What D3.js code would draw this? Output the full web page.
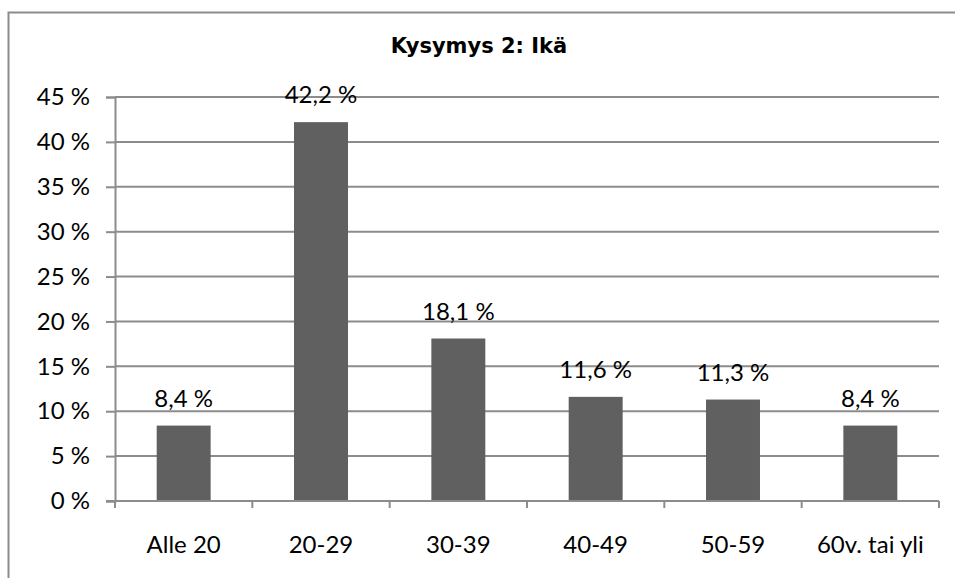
<!DOCTYPE html>
<html>
<head>
<meta charset="utf-8">
<script src="https://cdn.jsdelivr.net/npm/d3@7"></script>
<style>
  body { margin: 0; background: #fff; }
  svg { display: block; }
</style>
</head>
<body>
<div id="chart"></div>
<script>
// data
const categories = ['Alle 20', '20-29', '30-39', '40-49', '50-59', '60v. tai yli'];
const values = [8.4, 42.2, 18.1, 11.6, 11.3, 8.4];
const yTicks = [0, 5, 10, 15, 20, 25, 30, 35, 40, 45];
const title = 'Kysymys 2: Ikä';

const width = 955, height = 578;
const plot = { left: 115, right: 939, top: 97, bottom: 501 };

const svg = d3.select('#chart').append('svg')
    .attr('width', width)
    .attr('height', height);

// outer frame (runs off the right and bottom edges)
svg.append('rect')
    .attr('x', 8.5).attr('y', 12.5)
    .attr('width', 960).attr('height', 600)
    .attr('fill', 'none')
    .attr('stroke', '#8c8c8c')
    .attr('stroke-width', 2);

svg.append('text')
    .attr('x', 479).attr('y', 53)
    .attr('text-anchor', 'middle')
    .style('font-family', '"DejaVu Sans", sans-serif')
    .style('font-weight', 'bold')
    .style('font-size', '21px')
    .text(title);

const x = d3.scaleBand()
    .domain(categories)
    .range([plot.left, plot.right])
    .paddingInner(0.607)
    .paddingOuter(0.3035);

const xOuter = d3.scaleBand()
    .domain(categories)
    .range([plot.left, plot.right]);

const y = d3.scaleLinear()
    .domain([0, 45])
    .range([plot.bottom, plot.top]);

const font = 'Lato, "Open Sans", sans-serif';
const fs = '24px';

// gridlines + y axis
const yAxis = svg.append('g')
    .attr('transform', `translate(${plot.left},0)`)
    .call(d3.axisLeft(y).tickValues(yTicks).tickSize(9).tickPadding(16)
        .tickFormat(d => d + ' %'));
yAxis.select('.domain').attr('stroke', '#8c8c8c').attr('stroke-width', 2);
yAxis.selectAll('.tick line').attr('stroke', '#8c8c8c').attr('stroke-width', 2);
yAxis.selectAll('.tick text')
    .style('font-family', font).style('font-size', fs).attr('fill', '#000');

svg.append('g')
    .selectAll('line')
    .data(yTicks.slice(1))
    .join('line')
    .attr('x1', plot.left).attr('x2', plot.right)
    .attr('y1', d => y(d)).attr('y2', d => y(d))
    .attr('stroke', '#8c8c8c')
    .attr('stroke-width', 2);

// bars
svg.append('g')
    .selectAll('rect')
    .data(values)
    .join('rect')
    .attr('x', (d, i) => x(categories[i]))
    .attr('y', d => y(d))
    .attr('width', x.bandwidth())
    .attr('height', d => y(0) - y(d))
    .attr('fill', '#606060');

// x axis line and ticks at category boundaries
svg.append('line')
    .attr('x1', plot.left - 9).attr('x2', plot.right)
    .attr('y1', plot.bottom).attr('y2', plot.bottom)
    .attr('stroke', '#8c8c8c').attr('stroke-width', 2);

const bounds = categories.map(c => xOuter(c)).concat([plot.right]);
svg.append('g')
    .selectAll('line')
    .data(bounds)
    .join('line')
    .attr('x1', d => d).attr('x2', d => d)
    .attr('y1', plot.bottom).attr('y2', plot.bottom + 7)
    .attr('stroke', '#8c8c8c').attr('stroke-width', 2);

svg.append('g')
    .selectAll('text')
    .data(categories)
    .join('text')
    .attr('x', d => xOuter(d) + xOuter.bandwidth() / 2)
    .attr('y', 553)
    .attr('text-anchor', 'middle')
    .style('font-family', font).style('font-size', fs)
    .text(d => d);

// value labels
svg.append('g')
    .selectAll('text')
    .data(values)
    .join('text')
    .attr('x', (d, i) => x(categories[i]) + x.bandwidth() / 2)
    .attr('y', d => y(d) - 19)
    .attr('text-anchor', 'middle')
    .style('font-family', font).style('font-size', fs)
    .text(d => d.toFixed(1).replace('.', ',') + ' %');
</script>
</body>
</html>
